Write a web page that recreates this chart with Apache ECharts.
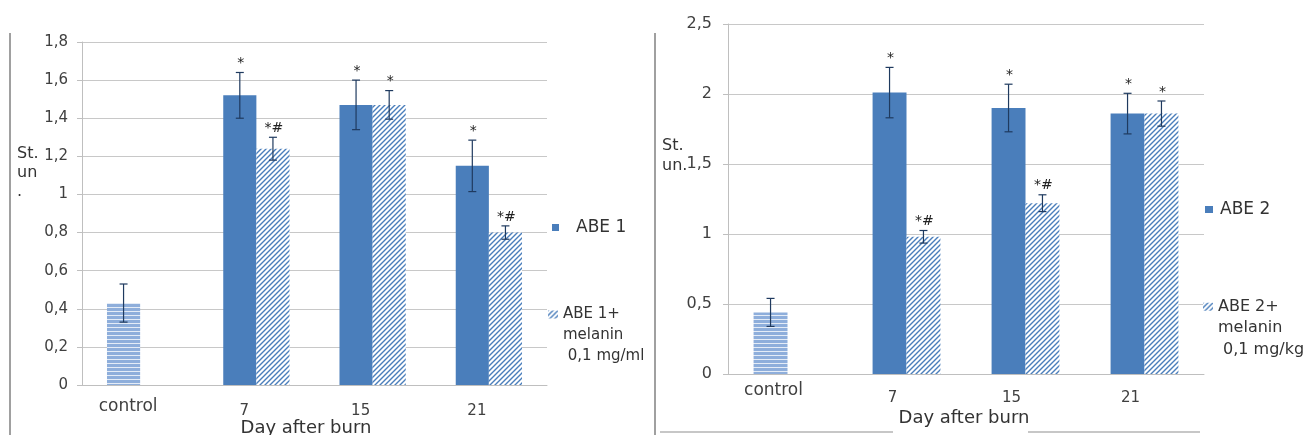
<!DOCTYPE html>
<html><head><meta charset="utf-8">
<script src="https://cdn.jsdelivr.net/npm/echarts@6/dist/echarts.min.js"></script>
<style>html,body{margin:0;padding:0;background:#fff}#c{width:1303px;height:435px}</style>
</head><body><div id="c"></div>
<script>
// ---- data ----
var categories = ['control', '7', '15', '21'];
var abe1 = [0.43, 1.52, 1.47, 1.15];
var abe1Err = [0.10, 0.12, 0.13, 0.135];
var abe1Mel = [null, 1.24, 1.47, 0.80];
var abe1MelErr = [null, 0.06, 0.075, 0.035];
var abe1Marks = ['', '*', '*', '*'];
var abe1MelMarks = ['', '*#', '*', '*#'];

var abe2 = [0.44, 2.01, 1.90, 1.86];
var abe2Err = [0.10, 0.18, 0.17, 0.145];
var abe2Mel = [null, 0.98, 1.22, 1.86];
var abe2MelErr = [null, 0.045, 0.06, 0.09];
var abe2Marks = ['', '*', '*', '*'];
var abe2MelMarks = ['', '*#', '*#', '*'];

var yAxis1 = {min: 0, max: 1.8, step: 0.2};
var yAxis2 = {min: 0, max: 2.5, step: 0.5};

var name1 = 'ABE 1', name1Mel = 'ABE 1+ melanin 0,1 mg/ml';
var name2 = 'ABE 2', name2Mel = 'ABE 2+ melanin 0,1 mg/kg';

// ---- styles ----
var FONT = 'DejaVu Sans';
var BLUE = '#4a7ebb';
var BAR_FRAC = 0.285;

function hatchPattern() {
  var s = 5;
  var c = document.createElement('canvas'); c.width = s; c.height = s;
  var g = c.getContext('2d');
  g.fillStyle = '#ffffff'; g.fillRect(0, 0, s, s);
  g.strokeStyle = BLUE; g.lineWidth = 1.4;
  g.beginPath();
  g.moveTo(0, s); g.lineTo(s, 0);
  g.moveTo(-1, 1); g.lineTo(1, -1);
  g.moveTo(s - 1, s + 1); g.lineTo(s + 1, s - 1);
  g.stroke();
  return {image: c, repeat: 'repeat'};
}
function hLinePattern() {
  var c = document.createElement('canvas'); c.width = 4; c.height = 4;
  var g = c.getContext('2d');
  g.fillStyle = '#8eaedb'; g.fillRect(0, 0, 4, 4);
  g.fillStyle = '#e4ecf7'; g.fillRect(0, 3, 4, 1);
  return {image: c, repeat: 'repeat'};
}
var HATCH = hatchPattern();
var HLINE = hLinePattern();

function fmtNum(v) { return String(+v.toFixed(1)).replace('.', ','); }

function barData(vals, ctrlStyle) {
  return vals.map(function (v, i) {
    if (v == null) return '-';
    if (i === 0 && ctrlStyle) return {value: v, itemStyle: {color: HLINE}};
    return v;
  });
}

function errSeries(gridIdx, vals, errs, marks, slot) {
  var data = [];
  vals.forEach(function (v, i) { if (v != null) data.push([i, v, errs[i]]); });
  return {
    type: 'custom', xAxisIndex: gridIdx, yAxisIndex: gridIdx, z: 5, silent: true,
    data: data,
    renderItem: function (params, api) {
      var i = api.value(0), v = api.value(1), e = api.value(2);
      var catW = api.size([1, 0])[0];
      var off = (slot === 0 ? -1 : 1) * catW * BAR_FRAC / 2;
      var pt = api.coord([i, v + e]), pb = api.coord([i, v - e]);
      var x = pt[0] + off, cap = 4;
      var st = {stroke: '#1f3a5f', lineWidth: 1.2};
      var ch = [
        {type: 'line', shape: {x1: x, y1: pt[1], x2: x, y2: pb[1]}, style: st},
        {type: 'line', shape: {x1: x - cap, y1: pt[1], x2: x + cap, y2: pt[1]}, style: st},
        {type: 'line', shape: {x1: x - cap, y1: pb[1], x2: x + cap, y2: pb[1]}, style: st}
      ];
      var m = marks[i];
      if (m) ch.push({type: 'text', style: {text: m, x: x + 1, y: pt[1] - 2, align: 'center',
        verticalAlign: 'bottom', font: '14px "' + FONT + '"', fill: '#222'}});
      return {type: 'group', children: ch};
    }
  };
}

function xAxisCfg(gridIdx, margin, digitPadTop, shift, nameGap) {
  return {
    type: 'category', gridIndex: gridIdx,
    data: categories.map(function (c, i) {
      return {value: c, textStyle: i === 0
        ? {fontSize: 17, padding: [0, shift, 0, 0]}
        : {fontSize: 15, padding: [digitPadTop, shift, 0, 0]}};
    }),
    axisLine: {lineStyle: {color: '#bfbfbf'}},
    axisTick: {length: 5, lineStyle: {color: '#bfbfbf'}},
    axisLabel: {margin: margin, color: '#404040', fontFamily: FONT},
    name: 'Day after burn', nameLocation: 'middle', nameGap: nameGap, nameMoveOverlap: false,
    nameTextStyle: {fontFamily: FONT, fontSize: 18, color: '#333', padding: gridIdx === 0 ? [0, 17, 0, 0] : [0, 4, 0, 0]}
  };
}
function yAxisCfg(gridIdx, ax, fs, margin) {
  return {
    type: 'value', gridIndex: gridIdx, min: ax.min, max: ax.max, interval: ax.step,
    axisLine: {show: true, lineStyle: {color: '#bfbfbf'}},
    axisTick: {show: true, length: 5, lineStyle: {color: '#bfbfbf'}},
    splitLine: {lineStyle: {color: '#c8c8c8'}},
    axisLabel: {formatter: fmtNum, color: '#404040', fontFamily: FONT, fontSize: fs, margin: margin}
  };
}

var option = {
  backgroundColor: '#ffffff',
  animation: false,
  textStyle: {fontFamily: FONT},
  grid: [
    {left: 82, right: 756, top: 42, bottom: 50, outerBoundsMode: 'none', containLabel: false},
    {left: 728, right: 99, top: 24, bottom: 61, outerBoundsMode: 'none', containLabel: false}
  ],
  xAxis: [xAxisCfg(0, 13, 6, 24, 34), xAxisCfg(1, 8, 9, 28, 35)],
  yAxis: [yAxisCfg(0, yAxis1, 15, 14), yAxisCfg(1, yAxis2, 16, 16)],
  legend: [
    {data: [name1], left: 552, top: 219, padding: 0, itemWidth: 7, itemHeight: 7, icon: 'rect',
      textStyle: {fontFamily: FONT, fontSize: 17, color: '#333', padding: [0, 0, 0, 12]}},
    {data: [name1Mel], left: 548, top: 262, padding: 0, itemWidth: 10, itemHeight: 8, icon: 'rect',
      formatter: function () { return '\n\nABE 1+\nmelanin\n 0,1 mg/ml'; },
      textStyle: {fontFamily: FONT, fontSize: 15, lineHeight: 21, color: '#333'}},
    {data: [name2], left: 1205, top: 201, padding: 0, itemWidth: 8, itemHeight: 7, icon: 'rect',
      textStyle: {fontFamily: FONT, fontSize: 17, color: '#333', padding: [0, 0, 0, 2]}},
    {data: [name2Mel], left: 1203, top: 253, padding: 0, itemWidth: 10, itemHeight: 8, icon: 'rect',
      formatter: function () { return '\n\nABE 2+\nmelanin\n 0,1 mg/kg'; },
      textStyle: {fontFamily: FONT, fontSize: 16, lineHeight: 21.5, color: '#333'}}
  ],
  graphic: [
    {type: 'line', shape: {x1: 10, y1: 33, x2: 10, y2: 435}, style: {stroke: '#808080', lineWidth: 1.5}},
    {type: 'line', shape: {x1: 655, y1: 33, x2: 655, y2: 435}, style: {stroke: '#808080', lineWidth: 1.5}},
    {type: 'line', shape: {x1: 660, y1: 432, x2: 893, y2: 432}, style: {stroke: '#909090', lineWidth: 1.2}},
    {type: 'line', shape: {x1: 1028, y1: 432, x2: 1200, y2: 432}, style: {stroke: '#909090', lineWidth: 1.2}},
    {type: 'text', left: 17, top: 144, style: {text: 'St.\nun\n.', font: '16px "' + FONT + '"', lineHeight: 19, fill: '#333'}},
    {type: 'text', left: 662, top: 136, style: {text: 'St.\nun.', font: '16px "' + FONT + '"', lineHeight: 20, fill: '#333'}}
  ],
  series: [
    {type: 'bar', name: name1, xAxisIndex: 0, yAxisIndex: 0, data: barData(abe1, true),
      barWidth: (BAR_FRAC * 100) + '%', barGap: '0%', itemStyle: {color: BLUE}},
    {type: 'bar', name: name1Mel, xAxisIndex: 0, yAxisIndex: 0, data: barData(abe1Mel, false),
      barWidth: (BAR_FRAC * 100) + '%', barGap: '0%', itemStyle: {color: HATCH}},
    {type: 'bar', name: name2, xAxisIndex: 1, yAxisIndex: 1, data: barData(abe2, true),
      barWidth: (BAR_FRAC * 100) + '%', barGap: '0%', itemStyle: {color: BLUE}},
    {type: 'bar', name: name2Mel, xAxisIndex: 1, yAxisIndex: 1, data: barData(abe2Mel, false),
      barWidth: (BAR_FRAC * 100) + '%', barGap: '0%', itemStyle: {color: HATCH}},
    errSeries(0, abe1, abe1Err, abe1Marks, 0),
    errSeries(0, abe1Mel, abe1MelErr, abe1MelMarks, 1),
    errSeries(1, abe2, abe2Err, abe2Marks, 0),
    errSeries(1, abe2Mel, abe2MelErr, abe2MelMarks, 1)
  ]
};

var chart = echarts.init(document.getElementById('c'), null, {renderer: 'canvas'});
chart.setOption(option);
</script>
</body></html>
